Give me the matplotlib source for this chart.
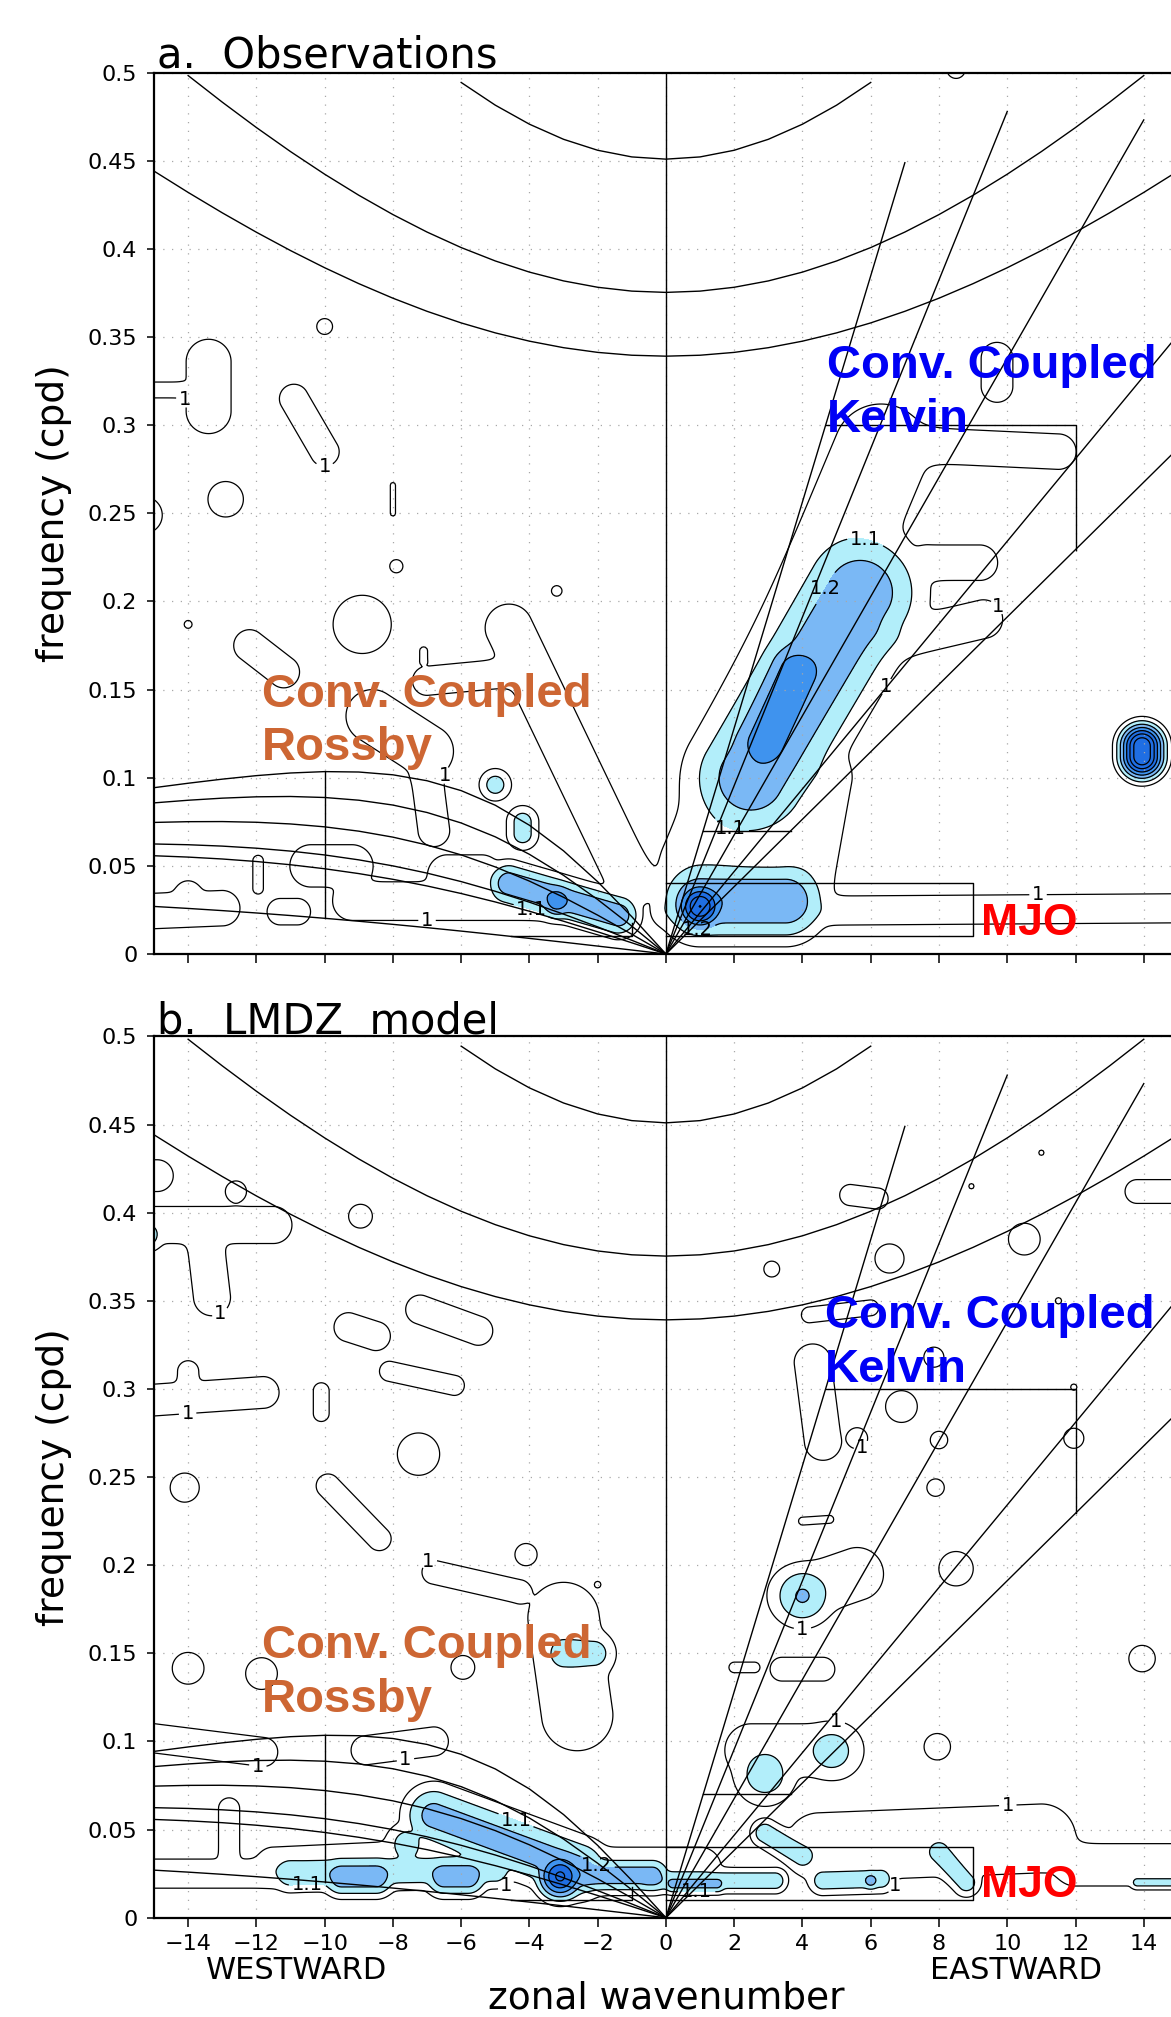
import numpy as np
import matplotlib
matplotlib.use("Agg")
import matplotlib.pyplot as plt

# ---- theory: equivalent depths (m) of the dispersion curves ----
kelvin_h = [8, 12, 25, 50, 90]
rossby_h = [1, 8, 12, 25, 50, 90]
gravity_h = [8, 12, 25]

# filter boxes (wavenumber, frequency cpd)
mjo_k = [0, 9]
mjo_f = [0.01, 0.04]
kelvin_f = [0.07, 0.3]
kelvin_kmax = 12
rossby_kmin = -10
rossby_kmax = -1
rossby_fmin = 0.01
rossby_f_at_kmax = 0.0175

# ---- spectral features ----
# (k1, f1, k2, f2, width, peak) : ridge from (k1,f1) to (k2,f2)
obs_level1 = [
    (-13.4, 0.308, -13.4, 0.336, 0.85, 1.07),
    (-15.5, 0.320, -14.2, 0.320, 0.30, 1.07),
    (-10.9, 0.315, -10.0, 0.285, 0.55, 1.07),
    (-10.0, 0.356, -10.0, 0.356, 0.30, 1.07),
    (-8.0, 0.250, -8.0, 0.266, 0.10, 1.07),
    (-12.9, 0.258, -12.9, 0.258, 0.67, 1.07),
    (-15.3, 0.249, -15.3, 0.249, 0.70, 1.07),
    (-14.0, 0.187, -14.0, 0.187, 0.15, 1.07),
    (-8.9, 0.187, -8.9, 0.187, 1.10, 1.07),
    (-7.9, 0.220, -7.9, 0.220, 0.25, 1.07),
    (-3.2, 0.206, -3.2, 0.206, 0.20, 1.07),
    (-12.2, 0.175, -11.2, 0.160, 0.60, 1.07),
    (-7.1, 0.172, -7.1, 0.166, 0.15, 1.07),
    (-7.0, 0.155, -4.3, 0.160, 0.55, 1.07),
    (-4.6, 0.185, -1.0, 0.040, 0.90, 1.07),
    (-8.6, 0.135, -7.0, 0.115, 1.00, 1.07),
    (-7.0, 0.100, -6.8, 0.070, 0.60, 1.07),
    (-10.4, 0.050, -9.2, 0.050, 0.80, 1.07),
    (-11.3, 0.024, -10.8, 0.024, 0.50, 1.07),
    (-11.95, 0.037, -11.95, 0.053, 0.20, 1.07),
    (-15.5, 0.024, -13.0, 0.026, 0.67, 1.07),
    (-14.0, 0.034, -14.0, 0.034, 0.50, 1.07),
    (-6.4, 0.045, -5.4, 0.045, 0.75, 1.07),
    (-9.2, 0.030, -3.5, 0.030, 0.73, 1.07),
    (1.2, 0.050, 6.3, 0.285, 1.80, 1.07),
    (6.0, 0.290, 11.5, 0.285, 0.67, 1.07),
    (6.0, 0.175, 9.3, 0.190, 0.73, 1.07),
    (7.7, 0.222, 9.2, 0.222, 0.67, 1.07),
    (9.7, 0.322, 9.7, 0.338, 0.60, 1.07),
    (0.0, 0.024, 15.5, 0.026, 0.55, 1.07),
    (4.0, 0.035, 4.6, 0.100, 1.10, 1.07),
    (8.5, 0.502, 8.5, 0.502, 0.35, 1.07),
]
obs_shaded = [
    (2.5, 0.100, 5.7, 0.205, 1.55, 1.28),
    (2.9, 0.120, 3.8, 0.160, 0.80, 1.37),
    (5.9, 0.185, 5.9, 0.185, 0.60, 1.16),
    (1.0, 0.027, 1.0, 0.027, 0.55, 1.60),
    (1.0, 0.030, 3.5, 0.030, 1.00, 1.29),
    (-4.6, 0.040, -1.4, 0.022, 0.55, 1.27),
    (-3.2, 0.030, -3.2, 0.030, 0.45, 1.36),
    (-5.0, 0.096, -5.0, 0.096, 0.45, 1.15),
    (-4.2, 0.068, -4.2, 0.075, 0.45, 1.15),
    (13.95, 0.112, 13.95, 0.118, 0.50, 1.70),
]

model_level1 = [
    (-15.5, 0.421, -14.9, 0.421, 0.60, 1.07),
    (-15.5, 0.393, -11.5, 0.393, 0.70, 1.07),
    (-13.5, 0.385, -13.3, 0.352, 0.70, 1.07),
    (-12.6, 0.412, -12.6, 0.412, 0.40, 1.07),
    (-8.95, 0.398, -8.95, 0.398, 0.45, 1.07),
    (-9.3, 0.335, -8.5, 0.330, 0.55, 1.07),
    (-7.2, 0.345, -5.5, 0.333, 0.55, 1.07),
    (-15.5, 0.293, -11.8, 0.298, 0.60, 1.07),
    (-14.0, 0.302, -14.0, 0.310, 0.40, 1.07),
    (-10.1, 0.286, -10.1, 0.299, 0.30, 1.07),
    (-8.1, 0.310, -6.2, 0.302, 0.38, 1.07),
    (-7.25, 0.263, -7.25, 0.263, 0.80, 1.07),
    (-14.1, 0.244, -14.1, 0.244, 0.55, 1.07),
    (-9.9, 0.245, -8.4, 0.215, 0.45, 1.07),
    (-3.0, 0.170, -2.6, 0.115, 1.35, 1.07),
    (-6.8, 0.196, -4.3, 0.185, 0.45, 1.07),
    (-4.1, 0.206, -4.1, 0.206, 0.42, 1.07),
    (-2.0, 0.189, -2.0, 0.189, 0.12, 1.07),
    (-14.0, 0.1415, -14.0, 0.1415, 0.60, 1.07),
    (-11.85, 0.1385, -11.85, 0.1385, 0.60, 1.07),
    (-5.95, 0.142, -5.95, 0.142, 0.45, 1.07),
    (-15.5, 0.103, -11.8, 0.094, 0.55, 1.07),
    (-8.8, 0.095, -6.8, 0.100, 0.55, 1.07),
    (-15.5, 0.025, -11.0, 0.025, 0.55, 1.07),
    (-12.8, 0.035, -12.8, 0.062, 0.40, 1.07),
    (-11.5, 0.030, -6.0, 0.035, 0.67, 1.07),
    (-2.5, 0.028, 1.0, 0.028, 0.80, 1.07),
    (5.4, 0.410, 6.2, 0.408, 0.40, 1.07),
    (6.55, 0.374, 6.55, 0.374, 0.55, 1.07),
    (3.1, 0.368, 3.1, 0.368, 0.30, 1.07),
    (8.95, 0.415, 8.95, 0.415, 0.10, 1.07),
    (11.0, 0.434, 11.0, 0.434, 0.10, 1.07),
    (10.5, 0.385, 10.5, 0.385, 0.60, 1.07),
    (13.8, 0.412, 15.5, 0.412, 0.45, 1.07),
    (11.5, 0.350, 11.5, 0.350, 0.12, 1.07),
    (15.2, 0.350, 15.2, 0.350, 0.45, 1.07),
    (4.2, 0.342, 6.0, 0.346, 0.30, 1.07),
    (7.85, 0.318, 7.85, 0.318, 0.38, 1.07),
    (4.3, 0.315, 4.6, 0.270, 0.70, 1.07),
    (5.6, 0.272, 5.6, 0.272, 0.40, 1.07),
    (6.9, 0.290, 6.9, 0.290, 0.60, 1.07),
    (11.95, 0.301, 11.95, 0.301, 0.12, 1.07),
    (8.0, 0.271, 8.0, 0.271, 0.33, 1.07),
    (11.95, 0.272, 11.95, 0.272, 0.38, 1.07),
    (7.9, 0.244, 7.9, 0.244, 0.33, 1.07),
    (4.0, 0.225, 4.8, 0.226, 0.15, 1.07),
    (8.5, 0.198, 8.5, 0.198, 0.65, 1.07),
    (2.0, 0.142, 2.6, 0.142, 0.20, 1.07),
    (3.4, 0.141, 4.6, 0.141, 0.45, 1.07),
    (13.95, 0.147, 13.95, 0.147, 0.50, 1.07),
    (7.95, 0.097, 7.95, 0.097, 0.50, 1.07),
    (2.5, 0.095, 5.0, 0.095, 1.00, 1.07),
    (3.8, 0.183, 5.6, 0.195, 1.00, 1.07),
    (4.5, 0.040, 11.0, 0.045, 1.30, 1.07),
    (12.0, 0.030, 15.5, 0.030, 0.80, 1.07),
    (15.4, 0.075, 15.4, 0.075, 0.70, 1.07),
]
model_shaded = [
    (-11.0, 0.025, -5.0, 0.027, 0.50, 1.17),
    (-7.6, 0.042, -7.6, 0.042, 0.60, 1.15),
    (-6.8, 0.058, -2.6, 0.028, 0.80, 1.24),
    (-3.1, 0.0234, -3.1, 0.0234, 0.55, 1.52),
    (-9.5, 0.023, -8.5, 0.023, 0.50, 1.27),
    (-6.5, 0.023, -5.8, 0.023, 0.50, 1.27),
    (-2.6, 0.024, -0.4, 0.024, 0.45, 1.26),
    (-0.5, 0.021, 3.2, 0.021, 0.35, 1.17),
    (0.2, 0.019, 1.5, 0.019, 0.25, 1.23),
    (2.9, 0.048, 4.0, 0.035, 0.40, 1.17),
    (4.6, 0.021, 6.3, 0.022, 0.40, 1.16),
    (6.0, 0.021, 6.0, 0.021, 0.25, 1.25),
    (8.0, 0.037, 8.8, 0.020, 0.40, 1.16),
    (13.8, 0.020, 15.5, 0.020, 0.20, 1.14),
    (4.0, 0.1826, 4.0, 0.1826, 0.80, 1.21),
    (2.9, 0.081, 2.9, 0.081, 0.85, 1.16),
    (4.85, 0.0945, 4.85, 0.0945, 0.75, 1.16),
    (-3.0, 0.150, -2.1, 0.150, 0.60, 1.15),
    (-15.2, 0.387, -15.2, 0.387, 0.45, 1.16),
]

# contour label spots, by level
obs_labels = {1.0: [(-14.0, 0.318), (-10.0, 0.273), (-7.0, 0.104), (-7.0, 0.018),
                    (6.9, 0.147), (9.9, 0.2), (10.9, 0.04)],
              1.1: [(5.9, 0.239), (-4.1, 0.0136), (1.85, 0.069)],
              1.2: [(5.0, 0.204), (0.9, 0.011)]}
model_labels = {1.0: [(-13.0, 0.341), (-14.0, 0.282), (-7.1, 0.207), (-12.0, 0.08),
                      (-7.6, 0.085), (-4.6, 0.0157), (4.0, 0.1615), (5.0, 0.112),
                      (10.0, 0.071), (6.9, 0.0157), (6.0, 0.259)],
                1.1: [(-4.4, 0.055), (-10.5, 0.0173), (0.9, 0.0157)],
                1.2: [(-2.1, 0.0253)]}

# ---- grid and helpers ----
AR = 51.6  # wavenumber units per cpd on screen
kk = np.linspace(-16, 16, 641)
ff = np.linspace(0, 0.52, 521)
K, F = np.meshgrid(kk, ff)


def spectrum(features, base=0.8, p=8):
    z = np.zeros_like(K)
    X, Y = K, F * AR
    for k1, f1, k2, f2, sig, peak in features:
        x1, y1, x2, y2 = k1, f1 * AR, k2, f2 * AR
        dx, dy = x2 - x1, y2 - y1
        L2 = dx * dx + dy * dy
        t = np.clip(((X - x1) * dx + (Y - y1) * dy) / L2, 0, 1) if L2 > 0 else 0
        d2 = (X - x1 - t * dx) ** 2 + (Y - y1 - t * dy) ** 2
        z += ((peak - base) * np.exp(-d2 / (2 * sig * sig))) ** p
    return base + z ** (1.0 / p)


g, R, om = 9.81, 6.371e6, 7.292e-5
beta = 2 * om / R
to_cpd = 86400 / (2 * np.pi)


def kelvin(h):
    s = np.arange(0, 16)
    f = s / R * np.sqrt(g * h) * to_cpd
    return s, f


def rossby(h):
    s = np.arange(-15, 1)
    k = s / R
    c = np.sqrt(g * h)
    f = -beta * k / (k ** 2 + 3 * beta / c) * to_cpd
    return s, f


def gravity(h):
    s = np.arange(-15, 16)
    k = s / R
    c = np.sqrt(g * h)
    f = np.sqrt(3 * beta * c + (k * c) ** 2) * to_cpd
    return s, f


fill_colors = ['#b2eefa', '#7ab8f5', '#3f93ee', '#1f6ee3']
line_levels = [1.0, 1.1, 1.2, 1.3, 1.4, 1.5, 1.6]
fmt = {1.0: '1', 1.1: '1.1', 1.2: '1.2'}

fig = plt.figure(figsize=(11.71, 20.17), dpi=100)
left, width = 154 / 1171, 30 * 34.13 / 1171
height = 881.3 / 2017
ax_a = fig.add_axes([left, 1 - 954 / 2017, width, height])
ax_b = fig.add_axes([left, 1 - 1917.7 / 2017, width, height])


def draw_panel(ax, level1, shaded, labels, kx, kf, rx, rf, mf, bottom):
    z = spectrum(level1 + shaded)
    ax.contourf(K, F, z, levels=[1.1, 1.2, 1.3, 1.4, 100], colors=fill_colors, zorder=1)
    for lev in line_levels:
        cs = ax.contour(K, F, z, levels=[lev], colors='black', linewidths=0.9, zorder=2)
        if lev in labels:
            texts = ax.clabel(cs, fmt=fmt, fontsize=14, inline=True,
                              inline_spacing=2, manual=labels[lev])
            for t in texts:
                t.set_rotation(0)

    lk = dict(color='black', lw=1.0, zorder=3)
    for h in kelvin_h:
        s, f = kelvin(h)
        m = f <= 0.5
        ax.plot(s[m], f[m], **lk)
    for h in rossby_h:
        s, f = rossby(h)
        ax.plot(s, f, **lk)
    for h in gravity_h:
        s, f = gravity(h)
        m = f <= 0.5
        ax.plot(s[m], f[m], **lk)
    ax.axvline(0, **lk)

    # boxes
    slope90 = kelvin(90)[1][1]
    slope8 = kelvin(8)[1][1]
    ax.plot([kelvin_f[1] / slope90, kelvin_kmax, kelvin_kmax],
            [kelvin_f[1], kelvin_f[1], kelvin_kmax * slope8], **lk)
    ax.plot([kelvin_f[0] / slope90, kelvin_f[0] / slope8], [kelvin_f[0]] * 2, **lk)
    ax.plot([mjo_k[0], mjo_k[1], mjo_k[1], mjo_k[0]],
            [mjo_f[0], mjo_f[0], mjo_f[1], mjo_f[1]], **lk)
    s1, f1 = rossby(1)
    s90, f90 = rossby(90)
    i = list(s1).index(rossby_kmin)
    ax.plot([rossby_kmin, rossby_kmin], [f1[i], f90[i]], **lk)
    k_cross = np.interp(rossby_fmin, f1[::-1], s1[::-1])
    ax.plot([k_cross, rossby_kmax, rossby_kmax],
            [rossby_fmin, rossby_fmin, rossby_f_at_kmax], **lk)

    # annotations
    tb = dict(fontfamily='Liberation Sans', fontweight='bold', fontsize=34,
              va='baseline', ha='left', zorder=5)
    ax.text(kx, kf, 'Conv. Coupled', color='#0000f5', **tb)
    ax.text(kx, kf - 0.0306, 'Kelvin', color='#0000f5', **tb)
    ax.text(rx, rf, 'Conv. Coupled', color='#cd6633', **tb)
    ax.text(rx, rf - 0.0305, 'Rossby', color='#cd6633', **tb)
    tb['fontsize'] = 32
    ax.text(9.24, mf, 'MJO', color='#ff0000', **tb)

    ax.set_xlim(-15, 15)
    ax.set_ylim(0, 0.5)
    ax.set_xticks(np.arange(-14, 15, 2))
    ax.set_yticks(np.arange(0, 0.51, 0.05))
    ax.set_yticklabels(['0', '0.05', '0.1', '0.15', '0.2', '0.25', '0.3',
                        '0.35', '0.4', '0.45', '0.5'])
    ax.grid(True, color='#a8a8a8', linestyle=(0, (1, 6)), linewidth=0.9)
    ax.tick_params(axis='y', direction='out', length=5, width=1.1, labelsize=16, pad=7)
    ax.tick_params(axis='x', direction='out', length=6.5, width=1.1, labelsize=16, pad=5,
                   labelbottom=bottom)
    for sp in ('left', 'top', 'bottom'):
        ax.spines[sp].set_linewidth(1.6)
    ax.spines['right'].set_visible(False)
    for gl in ax.get_xgridlines() + ax.get_ygridlines():
        gl.set_zorder(0.5)


draw_panel(ax_a, obs_level1, obs_shaded, obs_labels,
           4.72, 0.327, -11.83, 0.1404, 0.0108, False)
draw_panel(ax_b, model_level1, model_shaded, model_labels,
           4.66, 0.3347, -11.83, 0.1474, 0.012, True)

fig.text(157 / 1171, 1 - 68 / 2017, 'a.  Observations', fontsize=30, va='baseline')
fig.text(157 / 1171, 1 - 1033 / 2017, 'b.  LMDZ  model', fontsize=30, va='baseline')
for yc in (513, 1477):
    fig.text(54 / 1171, 1 - yc / 2017, 'frequency (cpd)', fontsize=27, rotation=90,
             ha='center', va='center')
fig.text(297 / 1171, 1 - 1970 / 2017, 'WESTWARD', fontsize=22, ha='center', va='center')
fig.text(1016 / 1171, 1 - 1970 / 2017, 'EASTWARD', fontsize=22, ha='center', va='center')
fig.text(666 / 1171, 1 - 2008 / 2017, 'zonal wavenumber', fontsize=27, ha='center',
         va='baseline')

fig.savefig('out.png', dpi=100)
